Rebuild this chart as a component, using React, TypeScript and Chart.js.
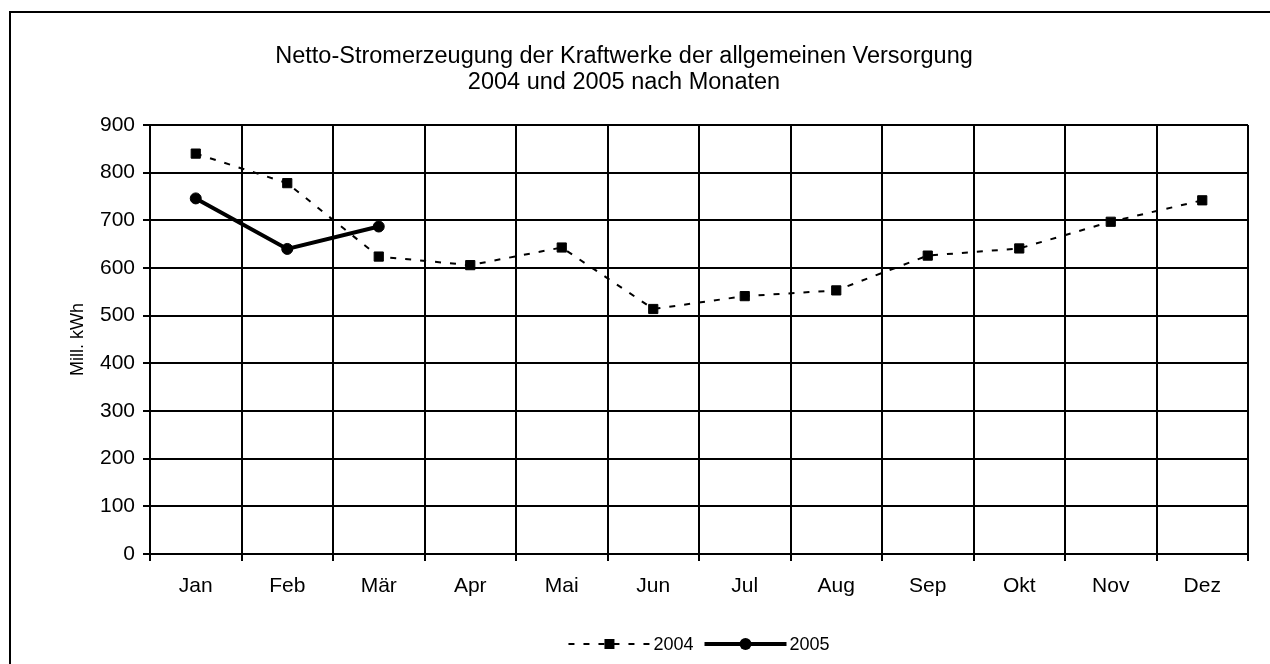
import React, { useEffect, useRef } from "react";
import { Chart, registerables } from "chart.js";

Chart.register(...registerables);

const months = ["Jan", "Feb", "Mär", "Apr", "Mai", "Jun", "Jul", "Aug", "Sep", "Okt", "Nov", "Dez"];
const values2004 = [840, 778, 624, 606, 643, 514, 541, 553, 626, 641, 697, 742];
const values2005 = [746, 640, 687];
const seriesLabels = ["2004", "2005"];
const titleLines = [
  "Netto-Stromerzeugung der Kraftwerke der allgemeinen Versorgung",
  "2004 und 2005 nach Monaten",
];
const yAxisTitle = "Mill. kWh";
const yMin = 0;
const yMax = 900;
const yStep = 100;

const FONT = '"Liberation Sans", Arial, Helvetica, sans-serif';

const framePlugin = {
  id: "frame",
  beforeDraw(chart: any) {
    const ctx = chart.ctx;
    ctx.save();
    ctx.fillStyle = "#ffffff";
    ctx.fillRect(0, 0, chart.width, chart.height);
    ctx.fillStyle = "#000000";
    ctx.fillRect(9, 11, 2, chart.height);
    ctx.fillRect(9, 11, chart.width, 2);
    ctx.restore();
  },
};

const legendPlugin = {
  id: "customLegend",
  afterDraw(chart: any) {
    const ctx = chart.ctx;
    const sampleW = 82;
    const textGap = 3;
    const itemGap = 11;
    ctx.save();
    ctx.font = `18px ${FONT}`;
    const ds = chart.data.datasets;
    const widths = ds.map((d: any) => sampleW + textGap + ctx.measureText(d.label).width);
    const total = widths.reduce((a: number, b: number) => a + b, 0) + itemGap * (ds.length - 1);
    const cx = (chart.chartArea.left + chart.chartArea.right) / 2;
    const cy = 644;
    let x = cx - total / 2;
    ds.forEach((d: any, i: number) => {
      ctx.strokeStyle = d.borderColor;
      ctx.lineWidth = d.borderWidth;
      ctx.setLineDash(d.borderDash || []);
      ctx.beginPath();
      ctx.moveTo(x, cy);
      ctx.lineTo(x + sampleW, cy);
      ctx.stroke();
      ctx.setLineDash([]);
      const mx = x + sampleW / 2;
      ctx.fillStyle = d.pointBackgroundColor;
      ctx.beginPath();
      if (d.pointStyle === "rect") {
        ctx.rect(mx - 5, cy - 5, 10, 10);
      } else {
        ctx.arc(mx, cy, d.pointRadius + 0.5, 0, Math.PI * 2);
      }
      ctx.fill();
      ctx.fillStyle = "#000";
      ctx.textBaseline = "middle";
      ctx.textAlign = "left";
      ctx.fillText(d.label, x + sampleW + textGap, cy + 1);
      x += widths[i] + itemGap;
    });
    ctx.restore();
  },
};

export default function App() {
  const ref = useRef<HTMLCanvasElement | null>(null);

  useEffect(() => {
    if (!ref.current) return;
    const chart = new Chart(ref.current, {
      type: "line",
      data: {
        labels: months,
        datasets: [
          {
            label: seriesLabels[0],
            data: values2004,
            borderColor: "#000",
            borderWidth: 2,
            borderDash: [6, 9],
            pointStyle: "rect",
            pointRadius: 6.5,
            pointBorderWidth: 1,
            pointBackgroundColor: "#000",
            pointBorderColor: "#000",
            tension: 0,
            fill: false,
          },
          {
            label: seriesLabels[1],
            data: values2005,
            borderColor: "#000",
            borderWidth: 4,
            pointStyle: "circle",
            pointRadius: 5.5,
            pointBorderWidth: 1,
            pointBackgroundColor: "#000",
            pointBorderColor: "#000",
            tension: 0,
            fill: false,
          },
        ],
      },
      options: {
        animation: false,
        responsive: false,
        layout: { padding: { left: 0, right: 22, top: 0, bottom: 0 } },
        plugins: {
          legend: { display: false },
          tooltip: { enabled: false },
          title: {
            display: true,
            text: titleLines,
            color: "#000",
            font: { family: FONT, size: 23.5, weight: "normal", lineHeight: 1.1 },
            padding: { top: 44, bottom: 29.3 },
          },
        },
        scales: {
          x: {
            type: "category",
            offset: true,
            grid: {
              offset: true,
              color: "#000",
              lineWidth: 2,
              tickLength: 7,
              drawTicks: true,
            },
            border: { display: true, color: "#000", width: 2 },
            ticks: {
              color: "#000",
              font: { family: FONT, size: 21 },
              padding: 13,
              maxRotation: 0,
              autoSkip: false,
            },
            afterFit: (scale: any) => {
              scale.height = 110;
            },
          },
          y: {
            min: yMin,
            max: yMax,
            grid: {
              color: "#000",
              lineWidth: 2,
              tickLength: 7,
            },
            border: { display: true, color: "#000", width: 2 },
            ticks: {
              stepSize: yStep,
              color: "#000",
              font: { family: FONT, size: 21 },
              padding: 8,
            },
            title: {
              display: true,
              text: yAxisTitle,
              color: "#000",
              font: { family: FONT, size: 18 },
              padding: { top: 67, bottom: 0 },
            },
            afterFit: (scale: any) => {
              scale.width = 150;
            },
          },
        },
      },
      plugins: [framePlugin, legendPlugin],
    } as any);
    return () => chart.destroy();
  }, []);

  return (
    <div style={{ position: "fixed", left: 0, top: 0, width: 1270, height: 664, background: "#fff" }}>
      <canvas ref={ref} width={1270} height={664} style={{ display: "block" }} />
    </div>
  );
}
